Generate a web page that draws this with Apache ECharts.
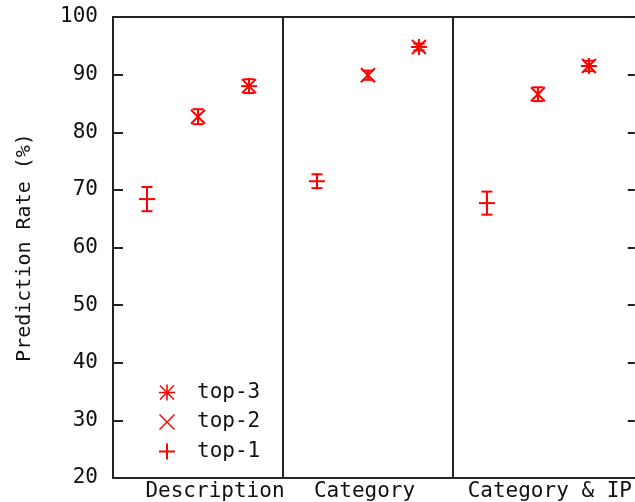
<!DOCTYPE html>
<html>
<head>
<meta charset="utf-8">
<script src="https://cdn.jsdelivr.net/npm/echarts@6/dist/echarts.min.js"></script>
<style>html,body{margin:0;padding:0;background:#fff;}#c{width:635px;height:502px;}</style>
</head>
<body>
<div id="c"></div>
<script>
const categories = ['Description', 'Category', 'Category & IP'];
const seriesNames = ['top-1', 'top-2', 'top-3'];
const top1 = [68.4, 71.5, 67.7];
const top1Err = [2.1, 1.2, 2.0];
const top2 = [82.7, 89.9, 86.6];
const top2Err = [1.3, 0.8, 1.2];
const top3 = [88.0, 94.8, 91.5];
const top3Err = [1.2, 0.6, 0.9];
const yTicks = [20, 30, 40, 50, 60, 70, 80, 90, 100];

const FONT = 'DejaVu Sans Mono';
const RED = '#ff0000';
const INK = '#222';
const slot = [0.2, 0.5, 0.8];   // place of each series inside its panel
const labelAt = [0.6, 1.48, 2.57];

function build(vals, errs, k) {
  return vals.map((v, i) => [i + slot[k], v, errs[i]]);
}
const allData = [build(top1, top1Err, 0), build(top2, top2Err, 1), build(top3, top3Err, 2)];

function markerShapes(type, cx, cy) {
  const a = 8, d = 7, out = [];
  const ln = (x1, y1, x2, y2) => out.push({type: 'line', shape: {x1, y1, x2, y2},
    style: {stroke: RED, lineWidth: 2}});
  if (type === 0 || type === 2) { ln(cx - a, cy, cx + a, cy); ln(cx, cy - a, cx, cy + a); }
  if (type === 1 || type === 2) { ln(cx - d, cy - d, cx + d, cy + d); ln(cx - d, cy + d, cx + d, cy - d); }
  return out;
}

function makeRender(k) {
  return function (params, api) {
    const x = api.value(0), y = api.value(1), e = api.value(2);
    const p = api.coord([x, y]);
    const pt = api.coord([x, y + e]);
    const pb = api.coord([x, y - e]);
    const c = 5.5;
    const st = {stroke: RED, lineWidth: 2};
    const children = [
      {type: 'line', shape: {x1: p[0], y1: pt[1], x2: p[0], y2: pb[1]}, style: st},
      {type: 'line', shape: {x1: p[0] - c, y1: pt[1], x2: p[0] + c, y2: pt[1]}, style: st},
      {type: 'line', shape: {x1: p[0] - c, y1: pb[1], x2: p[0] + c, y2: pb[1]}, style: st}
    ].concat(markerShapes(k, p[0], p[1]));
    return {type: 'group', children};
  };
}

const iconPlus = 'path://M0,7L16,7L16,9L0,9Z M7,0L9,0L9,16L7,16Z';
const iconX = 'path://M1,0L8,7L15,0L16,1L9,8L16,15L15,16L8,9L1,16L0,15L7,8L0,1Z';
const iconStar = 'path://M0,7.2L16,7.2L16,8.8L0,8.8Z M7.2,0L8.8,0L8.8,16L7.2,16Z M1.5,0.5L8,7L14.5,0.5L15.5,1.5L9,8L15.5,14.5L14.5,15.5L8,9L1.5,15.5L0.5,14.5L7,8L0.5,1.5Z';
const icons = [iconPlus, iconX, iconStar];

const series = allData.map((d, k) => ({
  name: seriesNames[k],
  type: 'custom',
  renderItem: makeRender(k),
  data: d,
  encode: {x: 0, y: 1},
  itemStyle: {color: RED},
  z: 5,
  clip: false
}));
series[0].markLine = {
  silent: true,
  symbol: 'none',
  label: {show: false},
  lineStyle: {color: INK, width: 2, type: 'solid'},
  data: [{xAxis: 1}, {xAxis: 2}],
  animation: false
};

const chart = echarts.init(document.getElementById('c'));
chart.setOption({
  animation: false,
  backgroundColor: '#fff',
  grid: {left: 113, top: 17, right: 0, bottom: 24, show: false},
  legend: {
    orient: 'vertical',
    left: 154,
    top: 377,
    itemWidth: 50,
    itemHeight: 16,
    itemGap: 8.5,
    selectedMode: false,
    textStyle: {fontFamily: FONT, fontSize: 21, color: '#111', lineHeight: 16},
    data: [2, 1, 0].map(k => ({name: seriesNames[k], icon: icons[k], itemStyle: {color: RED}}))
  },
  xAxis: [{
    type: 'value',
    min: 0,
    max: 3.07,
    axisLine: {show: true, onZero: false, lineStyle: {color: INK, width: 2}},
    axisTick: {show: false},
    splitLine: {show: false},
    axisLabel: {
      customValues: labelAt,
      formatter: v => categories[Math.floor(v)] || '',
      fontFamily: FONT, fontSize: 21, color: '#111', margin: 3
    }
  }, {
    type: 'value',
    position: 'top',
    min: 0,
    max: 3.07,
    axisLine: {show: true, onZero: false, lineStyle: {color: INK, width: 2}},
    axisTick: {show: false},
    splitLine: {show: false},
    axisLabel: {show: false}
  }],
  yAxis: [{
    type: 'value',
    position: 'left',
    min: 20, max: 100, interval: 10,
    name: 'Prediction Rate (%)',
    nameLocation: 'middle',
    nameRotate: 90,
    nameGap: 78,
    nameTextStyle: {fontFamily: FONT, fontSize: 20, color: '#111'},
    axisLine: {show: true, onZero: false, lineStyle: {color: INK, width: 2}},
    axisTick: {show: true, inside: true, length: 10, lineStyle: {color: INK, width: 2}},
    splitLine: {show: false},
    axisLabel: {
      fontFamily: FONT, fontSize: 21, color: '#111', margin: 15
    }
  }, {
    type: 'value',
    position: 'right',
    min: 20, max: 100, interval: 10,
    axisLine: {show: true, onZero: false, lineStyle: {color: 'rgba(0,0,0,0)', width: 0}},
    axisTick: {show: true, inside: true, length: 7, lineStyle: {color: INK, width: 2}},
    splitLine: {show: false},
    axisLabel: {show: false}
  }],
  series
});
</script>
</body>
</html>
